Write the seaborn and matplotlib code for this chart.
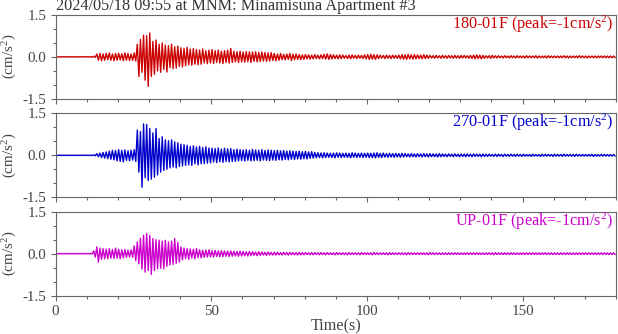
import numpy as np
import pandas as pd
import matplotlib
matplotlib.use("Agg")
import matplotlib.pyplot as plt
import seaborn as sns
from matplotlib.ticker import MultipleLocator, FixedLocator

# ---------------- data (per-second envelope) ----------------
title = "2024/05/18 09:55 at MNM: Minamisuna Apartment #3"
channels = ["180-01F", "270-01F", "UP-01F"]
peaks = [-1, -1, -1]
colors = ["#cc0000", "#0000cc", "#cc00cc"]

ns_upper = [
    0.01, 0.01, 0.01, 0.01, 0.01, 0.01, 0.01, 0.01, 0.01, 0.01, 0.01, 0.01, 0.02,
    0.10, 0.12, 0.10, 0.12, 0.14, 0.10, 0.12, 0.13, 0.11, 0.14, 0.12, 0.10, 0.14,
    0.45, 0.62, 0.77, 0.75, 0.85, 0.55, 0.60, 0.45, 0.50, 0.42, 0.40, 0.45, 0.36, 0.38, 0.32,
    0.30, 0.34, 0.28, 0.30, 0.26, 0.24, 0.28, 0.22, 0.24, 0.26, 0.22, 0.24, 0.20, 0.22, 0.24,
    0.30, 0.20, 0.18, 0.20, 0.17, 0.19, 0.18, 0.17, 0.18, 0.16, 0.17, 0.15, 0.14, 0.15, 0.12,
    0.10, 0.12, 0.09, 0.10, 0.12, 0.09, 0.10, 0.08, 0.07, 0.08, 0.07, 0.06, 0.08, 0.06, 0.07,
    0.09, 0.10, 0.08, 0.07, 0.06, 0.07, 0.06, 0.05, 0.06, 0.07, 0.05, 0.06, 0.05, 0.07, 0.08,
    0.09, 0.08, 0.07, 0.06, 0.05, 0.06, 0.05, 0.06, 0.05, 0.06, 0.08, 0.07, 0.09, 0.07, 0.08,
    0.07, 0.06, 0.08, 0.06, 0.05, 0.04, 0.05, 0.04, 0.05, 0.04, 0.05, 0.04, 0.05, 0.04, 0.05,
    0.05, 0.04, 0.05, 0.06, 0.07, 0.06, 0.05, 0.04, 0.04, 0.05, 0.04, 0.04, 0.03, 0.04, 0.03,
    0.04, 0.03, 0.04, 0.03, 0.03, 0.04, 0.03, 0.03, 0.04, 0.03, 0.03, 0.03, 0.04, 0.03, 0.03,
    0.03, 0.03, 0.04, 0.03, 0.03, 0.03, 0.03, 0.04, 0.03, 0.03, 0.03, 0.03, 0.03, 0.03, 0.03,
    0.03, 0.03, 0.03, 0.03,
]
ns_lower = [
    -0.01, -0.01, -0.01, -0.01, -0.01, -0.01, -0.01, -0.01, -0.01, -0.01, -0.01, -0.01, -0.02,
    -0.12, -0.14, -0.12, -0.10, -0.12, -0.14, -0.12, -0.11, -0.14, -0.12, -0.13, -0.12, -0.15,
    -0.70, -0.55, -0.83, -1.05, -0.70, -0.62, -0.50, -0.55, -0.45, -0.54, -0.38, -0.42, -0.40, -0.34, -0.36,
    -0.32, -0.28, -0.30, -0.26, -0.28, -0.26, -0.22, -0.24, -0.22, -0.24, -0.20, -0.22, -0.24, -0.20, -0.22,
    -0.20, -0.18, -0.20, -0.18, -0.19, -0.17, -0.20, -0.16, -0.18, -0.17, -0.15, -0.16, -0.15, -0.13, -0.14,
    -0.12, -0.10, -0.11, -0.09, -0.13, -0.10, -0.09, -0.10, -0.09, -0.07, -0.08, -0.07, -0.06, -0.07, -0.06,
    -0.08, -0.09, -0.07, -0.06, -0.07, -0.06, -0.05, -0.06, -0.07, -0.05, -0.06, -0.05, -0.06, -0.07, -0.09,
    -0.08, -0.09, -0.06, -0.05, -0.06, -0.05, -0.06, -0.05, -0.05, -0.07, -0.08, -0.09, -0.07, -0.08, -0.07,
    -0.06, -0.07, -0.06, -0.05, -0.04, -0.05, -0.04, -0.05, -0.04, -0.05, -0.04, -0.05, -0.04, -0.05, -0.04,
    -0.04, -0.05, -0.06, -0.07, -0.06, -0.07, -0.05, -0.04, -0.05, -0.04, -0.04, -0.03, -0.04, -0.03, -0.04,
    -0.03, -0.04, -0.03, -0.03, -0.04, -0.03, -0.03, -0.03, -0.04, -0.03, -0.03, -0.04, -0.03, -0.03, -0.03,
    -0.03, -0.03, -0.03, -0.04, -0.03, -0.03, -0.03, -0.03, -0.03, -0.04, -0.03, -0.03, -0.03, -0.03, -0.03,
    -0.03, -0.03, -0.03, -0.03,
]

ew_upper = [
    0.01, 0.01, 0.01, 0.01, 0.01, 0.01, 0.01, 0.01, 0.01, 0.01, 0.01, 0.01, 0.02,
    0.06, 0.08, 0.10, 0.12, 0.15, 0.18, 0.17, 0.20, 0.18, 0.19, 0.16, 0.18, 0.20,
    0.90, 0.85, 1.12, 1.10, 0.95, 0.80, 0.96, 0.60, 0.66, 0.55, 0.52, 0.55, 0.48, 0.45, 0.40,
    0.38, 0.36, 0.32, 0.34, 0.30, 0.32, 0.28, 0.30, 0.26, 0.25, 0.24, 0.26, 0.22, 0.25, 0.23,
    0.24, 0.20, 0.22, 0.20, 0.19, 0.20, 0.18, 0.21, 0.19, 0.18, 0.20, 0.17, 0.19, 0.18, 0.17,
    0.18, 0.16, 0.17, 0.15, 0.16, 0.15, 0.14, 0.15, 0.13, 0.14, 0.12, 0.13, 0.10, 0.09, 0.08,
    0.09, 0.08, 0.07, 0.08, 0.09, 0.08, 0.07, 0.08, 0.07, 0.09, 0.08, 0.07, 0.08, 0.07, 0.08,
    0.07, 0.08, 0.09, 0.07, 0.08, 0.06, 0.07, 0.06, 0.07, 0.06, 0.07, 0.06, 0.05, 0.06, 0.05,
    0.06, 0.05, 0.06, 0.05, 0.06, 0.05, 0.05, 0.06, 0.05, 0.04, 0.05, 0.04, 0.05, 0.04, 0.05,
    0.04, 0.05, 0.04, 0.05, 0.04, 0.04, 0.05, 0.04, 0.04, 0.03, 0.04, 0.04, 0.03, 0.04, 0.03,
    0.04, 0.03, 0.04, 0.03, 0.04, 0.03, 0.03, 0.04, 0.03, 0.03, 0.04, 0.03, 0.03, 0.03, 0.04,
    0.03, 0.03, 0.04, 0.03, 0.03, 0.03, 0.04, 0.03, 0.03, 0.03, 0.03, 0.04, 0.03, 0.03, 0.03,
    0.03, 0.03, 0.03, 0.03,
]
ew_lower = [
    -0.01, -0.01, -0.01, -0.01, -0.01, -0.01, -0.01, -0.01, -0.01, -0.01, -0.01, -0.01, -0.02,
    -0.05, -0.08, -0.10, -0.12, -0.14, -0.16, -0.20, -0.22, -0.24, -0.18, -0.20, -0.17, -0.22,
    -0.60, -1.14, -0.80, -0.90, -0.85, -0.78, -0.70, -0.60, -0.54, -0.50, -0.45, -0.42, -0.45, -0.40, -0.38,
    -0.36, -0.34, -0.36, -0.30, -0.34, -0.30, -0.30, -0.28, -0.27, -0.24, -0.26, -0.23, -0.25, -0.22, -0.24,
    -0.22, -0.22, -0.20, -0.19, -0.21, -0.18, -0.20, -0.19, -0.18, -0.20, -0.17, -0.18, -0.19, -0.17, -0.18,
    -0.16, -0.17, -0.15, -0.16, -0.14, -0.15, -0.13, -0.14, -0.12, -0.13, -0.11, -0.10, -0.09, -0.08, -0.09,
    -0.08, -0.07, -0.08, -0.09, -0.07, -0.08, -0.07, -0.08, -0.09, -0.07, -0.08, -0.07, -0.08, -0.07, -0.08,
    -0.08, -0.09, -0.07, -0.08, -0.06, -0.07, -0.06, -0.07, -0.06, -0.07, -0.06, -0.05, -0.06, -0.05, -0.06,
    -0.05, -0.06, -0.05, -0.06, -0.05, -0.05, -0.06, -0.05, -0.04, -0.05, -0.04, -0.05, -0.04, -0.05, -0.04,
    -0.05, -0.04, -0.05, -0.04, -0.04, -0.05, -0.04, -0.04, -0.03, -0.04, -0.04, -0.03, -0.04, -0.03, -0.04,
    -0.03, -0.04, -0.03, -0.04, -0.03, -0.03, -0.04, -0.03, -0.03, -0.04, -0.03, -0.03, -0.03, -0.04, -0.03,
    -0.03, -0.04, -0.03, -0.03, -0.03, -0.04, -0.03, -0.03, -0.03, -0.03, -0.03, -0.04, -0.03, -0.03, -0.03,
    -0.03, -0.03, -0.03, -0.03,
]

ud_upper = [
    0.01, 0.01, 0.01, 0.01, 0.01, 0.01, 0.01, 0.01, 0.01, 0.01, 0.01, 0.01,
    0.10, 0.24, 0.20, 0.18, 0.16, 0.18, 0.15, 0.20, 0.16, 0.14, 0.15, 0.12, 0.14, 0.28,
    0.42, 0.55, 0.66, 0.72, 0.65, 0.54, 0.50, 0.48, 0.45, 0.48, 0.42, 0.45, 0.54, 0.40, 0.24,
    0.20, 0.18, 0.17, 0.16, 0.18, 0.14, 0.12, 0.13, 0.14, 0.11, 0.12, 0.10, 0.11, 0.10, 0.09,
    0.10, 0.09, 0.08, 0.09, 0.08, 0.07, 0.08, 0.07, 0.06, 0.07, 0.06, 0.05, 0.06, 0.05, 0.05,
    0.05, 0.04, 0.05, 0.04, 0.05, 0.04, 0.04, 0.05, 0.04, 0.04, 0.03, 0.04, 0.04, 0.03, 0.04,
    0.03, 0.04, 0.03, 0.03, 0.04, 0.03, 0.03, 0.03, 0.04, 0.03, 0.03, 0.03, 0.04, 0.03, 0.03,
    0.03, 0.04, 0.03, 0.03, 0.03, 0.03, 0.04, 0.03, 0.03, 0.03, 0.03, 0.03, 0.04, 0.03, 0.03,
    0.03, 0.03, 0.03, 0.03, 0.04, 0.03, 0.03, 0.03, 0.03, 0.03, 0.03, 0.03, 0.03, 0.03, 0.03,
    0.03, 0.03, 0.03, 0.03, 0.03, 0.03, 0.03, 0.03, 0.03, 0.03, 0.04, 0.03, 0.03, 0.03, 0.03,
    0.03, 0.03, 0.03, 0.03, 0.03, 0.03, 0.03, 0.03, 0.03, 0.03, 0.03, 0.03, 0.03, 0.03, 0.03,
    0.03, 0.03, 0.03, 0.03, 0.03, 0.03, 0.03, 0.03, 0.03, 0.03, 0.03, 0.03, 0.03, 0.03, 0.03,
    0.03, 0.03, 0.03, 0.03,
]
ud_lower = [
    -0.01, -0.01, -0.01, -0.01, -0.01, -0.01, -0.01, -0.01, -0.01, -0.01, -0.01, -0.01,
    -0.12, -0.30, -0.20, -0.18, -0.18, -0.16, -0.17, -0.16, -0.18, -0.15, -0.13, -0.12, -0.13, -0.25,
    -0.36, -0.55, -0.66, -0.60, -0.74, -0.60, -0.54, -0.52, -0.54, -0.45, -0.40, -0.38, -0.35, -0.30, -0.22,
    -0.18, -0.20, -0.15, -0.18, -0.14, -0.15, -0.13, -0.12, -0.11, -0.12, -0.10, -0.11, -0.10, -0.09, -0.10,
    -0.09, -0.08, -0.09, -0.08, -0.07, -0.08, -0.07, -0.06, -0.07, -0.06, -0.05, -0.06, -0.05, -0.05, -0.05,
    -0.04, -0.05, -0.04, -0.05, -0.04, -0.04, -0.05, -0.04, -0.04, -0.03, -0.04, -0.04, -0.03, -0.04, -0.03,
    -0.04, -0.03, -0.03, -0.04, -0.03, -0.03, -0.03, -0.04, -0.03, -0.03, -0.03, -0.04, -0.03, -0.03, -0.03,
    -0.04, -0.03, -0.03, -0.03, -0.03, -0.04, -0.03, -0.03, -0.03, -0.03, -0.03, -0.04, -0.03, -0.03, -0.03,
    -0.03, -0.03, -0.03, -0.04, -0.03, -0.03, -0.03, -0.03, -0.03, -0.03, -0.03, -0.03, -0.03, -0.03, -0.03,
    -0.03, -0.03, -0.03, -0.03, -0.03, -0.03, -0.03, -0.03, -0.03, -0.04, -0.03, -0.03, -0.03, -0.03, -0.03,
    -0.03, -0.03, -0.03, -0.03, -0.03, -0.03, -0.03, -0.03, -0.03, -0.03, -0.03, -0.03, -0.03, -0.03, -0.03,
    -0.03, -0.03, -0.03, -0.03, -0.03, -0.03, -0.03, -0.03, -0.03, -0.03, -0.03, -0.03, -0.03, -0.03, -0.03,
    -0.03, -0.03, -0.03, -0.03,
]

uppers = [ns_upper, ew_upper, ud_upper]
lowers = [ns_lower, ew_lower, ud_lower]

# ---------------- style ----------------
sns.set_style("ticks")
serif = ["Liberation Serif", "DejaVu Serif"]
plt.rcParams["font.family"] = serif
plt.rcParams["mathtext.fontset"] = "custom"
plt.rcParams["mathtext.rm"] = "Liberation Serif"
plt.rcParams["mathtext.it"] = "Liberation Serif:italic"
plt.rcParams["mathtext.default"] = "regular"

TXT = "#444444"
SPINE = "#666666"
FS = 11.7
FS_TICK = 10.8

fig = plt.figure(figsize=(6.18, 3.34), dpi=100)
W, H = 618.0, 334.0
left_px, right_px = 55.6, 616.0
panels_px = [(14.7, 99.0), (113.3, 197.3), (211.7, 295.7)]

for k, (top_px, bot_px) in enumerate(panels_px):
    ax = fig.add_axes([left_px / W, 1 - bot_px / H,
                       (right_px - left_px) / W, (bot_px - top_px) / H])
    up = np.asarray(uppers[k])
    lo = np.asarray(lowers[k])
    sec = np.arange(len(up))
    t = np.column_stack([sec + 0.25, sec + 0.75]).ravel()
    v = np.column_stack([up, lo]).ravel()
    df = pd.DataFrame({"t": t, "v": v})
    sns.lineplot(data=df, x="t", y="v", ax=ax, estimator=None, sort=False,
                 color=colors[k], lw=1.0)
    ax.set_xlim(0, 180)
    ax.set_ylim(-1.5, 1.5)
    ax.set_xlabel("")
    ax.set_ylabel("")
    ax.xaxis.set_major_locator(FixedLocator([0, 50, 100, 150]))
    ax.xaxis.set_minor_locator(MultipleLocator(10))
    ax.yaxis.set_major_locator(FixedLocator([-1.5, 0.0, 1.5]))
    ax.yaxis.set_minor_locator(MultipleLocator(0.5))
    ax.set_yticklabels(["-1.5", "0.0", "1.5"])
    ax.tick_params(axis="both", which="major", direction="out", length=3.5,
                   width=0.8, color=SPINE, labelcolor=TXT, labelsize=FS_TICK, pad=3)
    ax.tick_params(axis="both", which="minor", direction="out", length=2,
                   width=0.8, color=SPINE)
    ax.tick_params(axis="x", which="both", top=False, bottom=True)
    ax.tick_params(axis="y", which="both", left=True, right=False)
    if k < 2:
        ax.tick_params(axis="x", labelbottom=False)
    for s in ax.spines.values():
        s.set_color(SPINE)
        s.set_linewidth(0.8)
        s.set_visible(True)
    ax.text(0.9947, 0.835, f"{channels[k]} (peak={peaks[k]}cm/s$^{{2}}$)",
            transform=ax.transAxes, ha="right", va="baseline",
            color=colors[k], fontsize=FS)
    ymid = 1 - (top_px + bot_px) / 2 / H
    fig.text(10 / W, ymid, "(cm/s$^{2}$)", rotation=90, ha="center", va="center",
             color=TXT, fontsize=FS_TICK)
    if k == 2:
        fig.text((left_px + right_px) / 2 / W, 1 - 326 / H, "Time(s)",
                 ha="center", va="center", color=TXT, fontsize=FS)

fig.text(56 / W, 1 - 10.5 / H, title, ha="left", va="baseline", color="#333333",
         fontsize=FS)

fig.savefig("out.png", dpi=100)
